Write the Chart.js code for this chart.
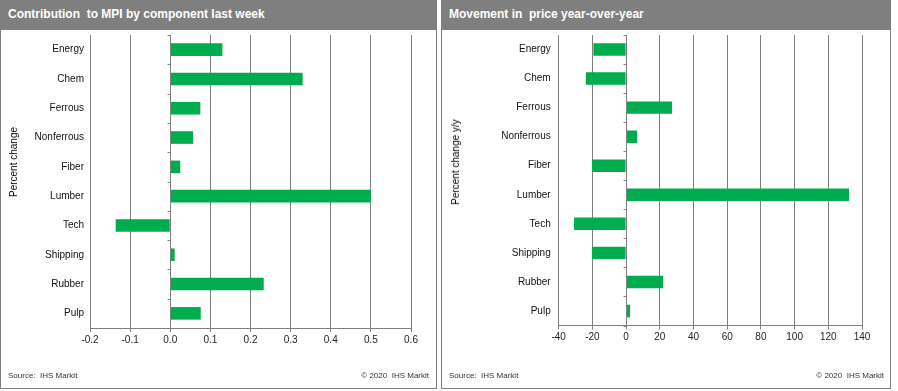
<!DOCTYPE html>
<html><head><meta charset="utf-8">
<script src="https://cdn.jsdelivr.net/npm/chart.js@4/dist/chart.umd.min.js"></script>
<style>
body{margin:0;background:#fff;font-family:'Liberation Sans',Arial,sans-serif;}
.panel{position:absolute;top:0;border:1px solid #7f7f7f;box-sizing:border-box;height:389px;}
.hdr{position:absolute;left:-1px;top:-1px;right:-1px;height:30px;background:#7f7f7f;color:#fff;font-weight:bold;font-size:12px;line-height:29px;padding-left:8px;white-space:pre;}
.cv{position:absolute;top:28px;left:0;}
.src{position:absolute;top:370px;font-size:8px;line-height:10px;color:#333;white-space:pre;}
.ytitle{position:absolute;font-size:10px;line-height:12px;color:#000;white-space:pre;transform:translate(-50%,-50%) rotate(-90deg);}
</style></head>
<body>
<div class="panel" style="left:0;width:437px;">
  <div class="hdr">Contribution  to MPI by component last week</div>
  <canvas id="c1" class="cv" width="435" height="358"></canvas>
  <div class="ytitle" style="left:13px;top:161px;">Percent change</div>
  <div class="src" style="left:7px;">Source:  IHS Markit</div>
  <div class="src" style="right:7px;">© 2020  IHS Markit</div>
</div>
<div class="panel" style="left:441px;width:450px;">
  <div class="hdr">Movement in  price year-over-year</div>
  <canvas id="c2" class="cv" width="448" height="358"></canvas>
  <div class="ytitle" style="left:14px;top:161px;">Percent change y/y</div>
  <div class="src" style="left:7px;">Source:  IHS Markit</div>
  <div class="src" style="right:6px;">© 2020  IHS Markit</div>
</div>
<script>
const categories = ['Energy','Chem','Ferrous','Nonferrous','Fiber','Lumber','Tech','Shipping','Rubber','Pulp'];
const contributionLastWeek = [0.13, 0.33, 0.075, 0.057, 0.025, 0.50, -0.136, 0.011, 0.233, 0.076];
const priceYoY = [-19.4, -23.9, 27.3, 6.5, -20.3, 132.3, -30.9, -20.3, 22.0, 2.4];
const leftTicks = {min:-0.2, max:0.6, step:0.1};
const rightTicks = {min:-40, max:140, step:20};

const GREEN = '#00ad4e';
const GRID = '#7f7f7f';
const F = "'Liberation Sans', Arial, sans-serif";

const zeroAxis = {
  id:'zeroAxis',
  afterDatasetsDraw(chart){
    const {ctx, chartArea:a, scales:{x, y}} = chart;
    const x0 = Math.round(x.getPixelForValue(0)) + 0.5;
    const n = chart.data.labels.length;
    ctx.save();
    ctx.strokeStyle = GRID; ctx.lineWidth = 1;
    ctx.beginPath();
    ctx.moveTo(x0, a.top); ctx.lineTo(x0, a.bottom);
    for (let i = 0; i <= n; i++) {
      const yy = Math.round(y.getPixelForValue(i - 0.5)) + 0.5;
      ctx.moveTo(x0 - 3, yy); ctx.lineTo(x0, yy);
    }
    ctx.stroke();
    ctx.restore();
  }
};

function makeChart(id, values, t, cfg) {
  return new Chart(document.getElementById(id), {
    type:'bar',
    data:{labels:categories, datasets:[{data:values, backgroundColor:GREEN, barPercentage:0.43, categoryPercentage:1}]},
    options:{
      indexAxis:'y', responsive:false, animation:false, devicePixelRatio:1,
      layout:{padding:{top:cfg.top, right:cfg.padRight, left:0, bottom:0}},
      plugins:{legend:{display:false}, tooltip:{enabled:false}},
      scales:{
        x:{
          min:t.min, max:t.max,
          ticks:{stepSize:t.step, callback:cfg.fmt, font:{size:10, family:F}, color:'#222', padding:2, maxRotation:0, autoSkip:false},
          grid:{color:GRID, lineWidth:1, tickLength:4, drawTicks:true},
          border:{display:true, color:GRID},
          afterFit:s=>{s.height = cfg.xh;}
        },
        y:{
          ticks:{font:{size:10, family:F}, color:'#111', padding:cfg.lp},
          grid:{display:false, drawTicks:false},
          border:{display:false},
          afterFit:s=>{s.width = cfg.yw; s.paddingTop = 0; s.paddingBottom = 0;}
        }
      }
    },
    plugins:[zeroAxis]
  });
}

makeChart('c1', contributionLastWeek, leftTicks, {
  top:6, padRight:25, xh:59, yw:89, lp:6,
  fmt:v=>Number(v).toFixed(1)
});
makeChart('c2', priceYoY, rightTicks, {
  top:6, padRight:28, xh:61.5, yw:116.7, lp:8,
  fmt:v=>String(Math.round(v))
});
</script>
</body></html>
